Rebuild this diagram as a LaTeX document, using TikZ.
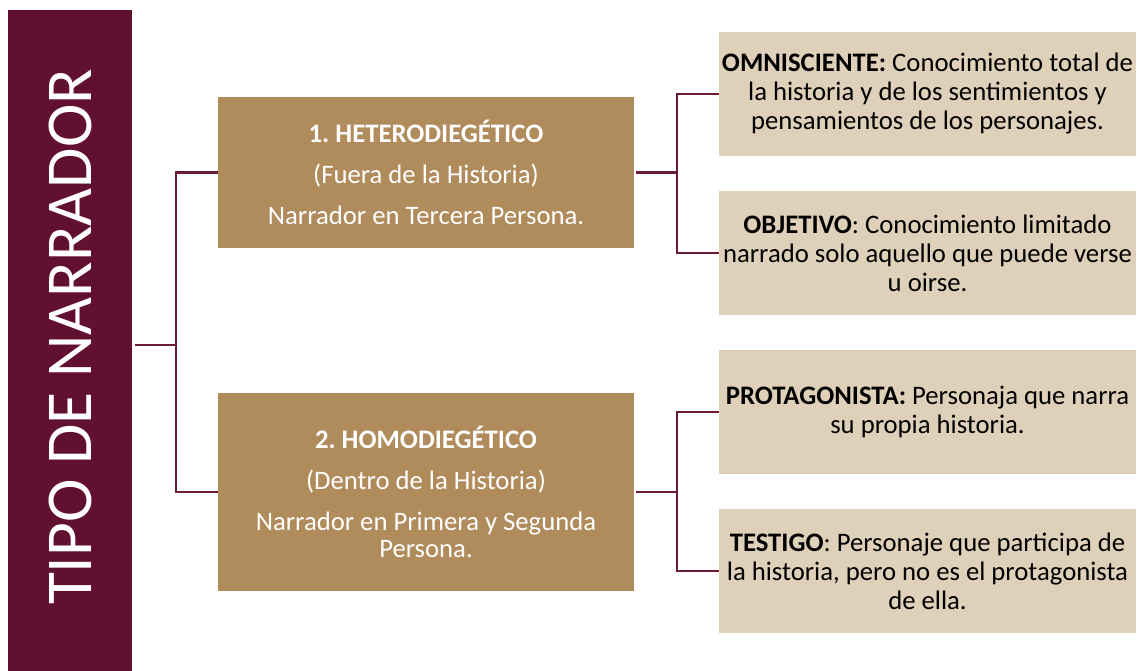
\documentclass[tikz,border=0pt]{standalone}
\usepackage{fontspec}
\setmainfont{Carlito}
\frenchspacing
\definecolor{maroon}{HTML}{621032}
\definecolor{linec}{HTML}{6B1A3A}
\definecolor{tan}{HTML}{B08B5B}
\definecolor{light}{HTML}{DFD0B9}
\begin{document}
\begin{tikzpicture}[x=1pt,y=-1pt,
  barbox/.style={fill=maroon, draw=none, inner sep=0pt},
  midbox/.style={fill=tan, draw=none, inner sep=0pt, minimum width=416pt, text=white, align=center,
     font=\fontsize{26.7}{27.5}\selectfont},
  rbox/.style={fill=light, draw=none, inner sep=0pt, minimum width=417pt, minimum height=124pt, text=black, align=center,
     font=\fontsize{26.7}{29}\selectfont},
  conn/.style={draw=linec, line width=2.9pt}]
\useasboundingbox (0,0) rectangle (1138,671);
\fill[white] (0,0) rectangle (1138,671);
\node[barbox, minimum width=124pt, minimum height=661pt] (bar) at (70,340.5) {};
\node[text=white, rotate=90, font=\fontsize{65.5}{65.5}\selectfont] (title) at (70,337) {TIPO DE NARRADOR};
\node[midbox, minimum height=151pt] (h1) at (426,172.5)
  {\textbf{1. HETERODIEGÉTICO}\\[13.5pt](Fuera de la Historia)\\[13.5pt]Narrador en Tercera Persona.};
\node[midbox, minimum height=198pt] (h2) at (426,492)
  {\textbf{2. HOMODIEGÉTICO}\\[13.5pt](Dentro de la Historia)\\[13.5pt]Narrador en Primera y Segunda\\Persona.};
\node[rbox] (o1) at (927.5,94)
  {\textbf{OMNISCIENTE:} Conocimiento total de\\la historia y de los sentimientos y\\pensamientos de los personajes.};
\node[rbox] (o2) at (927.5,253)
  {\textbf{OBJETIVO}: Conocimiento limitado\\narrado solo aquello que puede verse\\u oirse.};
\node[rbox] (p1) at (927.5,412)
  {\textbf{PROTAGONISTA:} Personaja que narra\\su propia historia.};
\node[rbox] (p2) at (927.5,571)
  {\textbf{TESTIGO}: Personaje que participa de\\la historia, pero no es el protagonista\\de ella.};
\coordinate (j0) at (176,345);
\coordinate (j1) at (677,172.5);
\coordinate (j2) at (677,492);
\draw[conn] ([xshift=3pt]bar.east |- j0) -- (j0);
\draw[conn] (h1.west) -| (j0) |- (h2.west);
\draw[conn] ([xshift=2pt]h1.east) -- (j1);
\draw[conn] (o1.west) -| (j1) |- (o2.west);
\draw[conn] ([xshift=2pt]h2.east) -- (j2);
\draw[conn] (p1.west) -| (j2) |- (p2.west);
\end{tikzpicture}
\end{document}
